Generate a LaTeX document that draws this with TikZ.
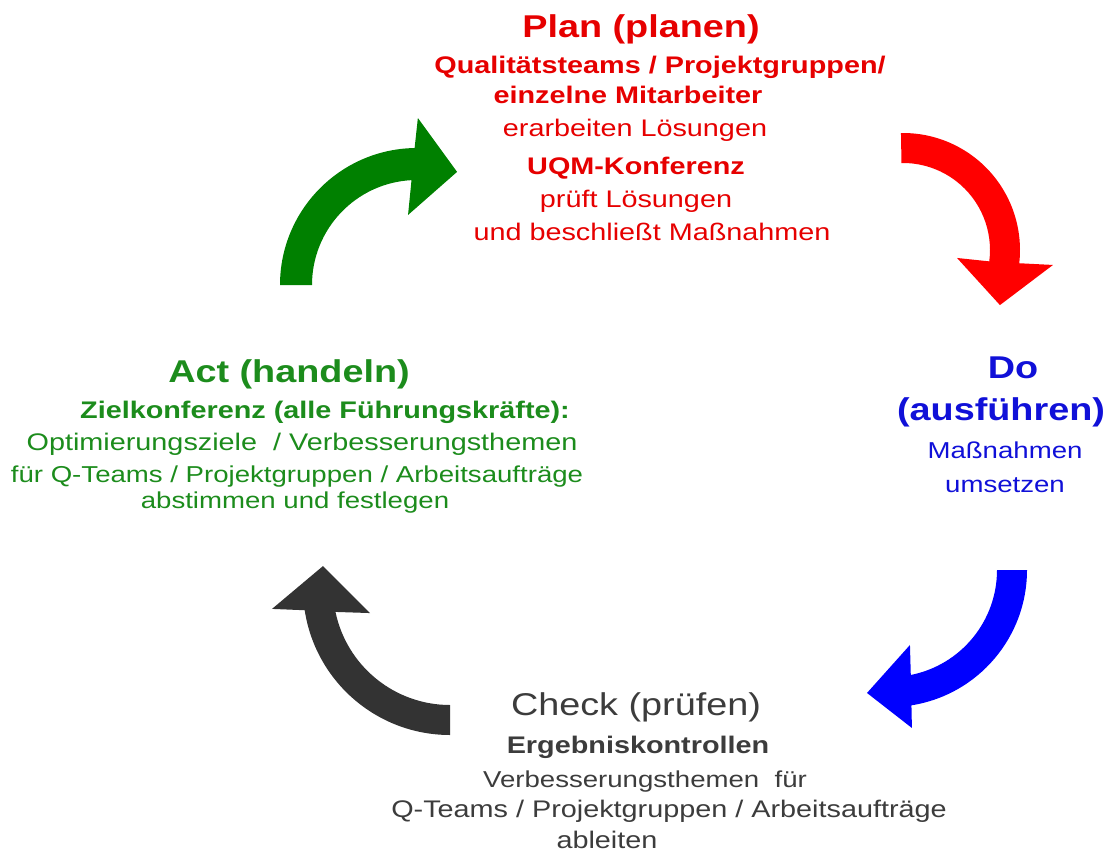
\documentclass[tikz,border=0pt]{standalone}
\usepackage{fontspec}
\setmainfont{Liberation Sans}[FakeStretch=1.2]
\usepackage{tikz}
\usetikzlibrary{positioning}
\definecolor{actgreen}{HTML}{008000}
\definecolor{acttext}{HTML}{1C8C1C}
\definecolor{planred}{HTML}{FF0000}
\definecolor{plantext}{HTML}{E60000}
\definecolor{doblue}{HTML}{0000FF}
\definecolor{dotext}{HTML}{1010D8}
\definecolor{checkgray}{HTML}{333333}
\definecolor{checktext}{HTML}{3C3C3C}
\newcommand{\headsize}{\fontsize{31.5}{36}\selectfont}
\newcommand{\bodysize}{\fontsize{24}{28}\selectfont}
\newcommand{\smallsize}{\fontsize{23}{27}\selectfont}

\begin{document}
\begin{tikzpicture}[
  x=1pt,y=1pt,
  ln/.style={anchor=base,inner sep=0pt},
  hd/.style={ln,font=\headsize\bfseries},
  hdr/.style={ln,font=\headsize},
  bd/.style={ln,font=\bodysize\bfseries},
  tx/.style={ln,font=\bodysize},
  sm/.style={ln,font=\smallsize}
]
\useasboundingbox (0,0) rectangle (1111,-856);
% arrows
\begin{scope}[shift={(417,-285)}]
\fill[actgreen] (180:137pt) arc[start angle=180,end angle=91,radius=137pt] -- (89.7:167pt) -- (70.5:120pt)
  -- (97.3:70.6pt) -- (93:105pt) arc[start angle=93,end angle=180,radius=105pt] -- cycle;
\end{scope}
\begin{scope}[shift={(903,-250)}]
\fill[planred] (91:117pt) arc[start angle=91,end angle=-6.5,radius=117pt] -- (-5.7:150.7pt) -- (-29.6:111.5pt)
  -- (-8.4:54.6pt) -- (-7.5:87pt) arc[start angle=-7.5,end angle=91,radius=87pt] -- cycle;
\end{scope}
\begin{scope}[shift={(890,-570)}]
\fill[doblue] (0:137pt) arc[start angle=0,end angle=-81,radius=137pt] -- (-82.1:159.5pt) -- (-100.6:125.1pt)
  -- (-75.1:77.6pt) -- (-78.8:107pt) arc[start angle=-78.8,end angle=0,radius=107pt] -- cycle;
\end{scope}
\begin{scope}[shift={(450,-588)}]
\fill[checkgray] (270:147pt) arc[start angle=270,end angle=188.7,radius=147pt] -- (186.7:179.2pt) -- (170.2:128.9pt)
  -- (197.4:83.8pt) -- (191.8:117pt) arc[start angle=191.8,end angle=270,radius=117pt] -- cycle;
\end{scope}
% Plan
\node[hd,text=plantext] (plan)  at (641,-38)  {Plan (planen)};
\node[bd,text=plantext] (plan1) at (660,-74)  {Qualitätsteams / Projektgruppen/};
\node[bd,text=plantext] (plan2) at (628,-104) {einzelne Mitarbeiter};
\node[tx,text=plantext] (plan3) at (635,-137) {erarbeiten Lösungen};
\node[bd,text=plantext] (plan4) at (636,-175) {UQM-Konferenz};
\node[tx,text=plantext] (plan5) at (636,-207) {prüft Lösungen};
\node[tx,text=plantext] (plan6) at (652,-240) {und beschließt Maßnahmen};
% Do
\node[hd,text=dotext] (do)  at (1013,-378) {Do};
\node[hd,text=dotext] (do1) at (1001,-420) {(ausführen)};
\node[sm,text=dotext] (do2) at (1005,-458) {Maßnahmen};
\node[sm,text=dotext] (do3) at (1005,-492) {umsetzen};
% Check
\node[hdr,text=checktext] (check)  at (636,-715) {Check (prüfen)};
\node[bd,text=checktext]  (check1) at (638,-753) {Ergebniskontrollen};
\node[sm,text=checktext]  (check2) at (645,-787) {Verbesserungsthemen\ \ für};
\node[tx,text=checktext]  (check3) at (669,-817) {Q-Teams / Projektgruppen / Arbeitsaufträge};
\node[tx,text=checktext]  (check4) at (607,-848) {ableiten};
% Act
\node[hd,text=acttext] (act)  at (289,-382) {Act (handeln)};
\node[bd,text=acttext] (act1) at (325,-418) {Zielkonferenz (alle Führungskräfte):};
\node[tx,text=acttext] (act2) at (302,-450) {Optimierungsziele\ \ / Verbesserungsthemen};
\node[sm,text=acttext] (act3) at (297,-482) {für Q-Teams / Projektgruppen / Arbeitsaufträge};
\node[sm,text=acttext] (act4) at (295,-508) {abstimmen und festlegen};
\end{tikzpicture}
\end{document}
